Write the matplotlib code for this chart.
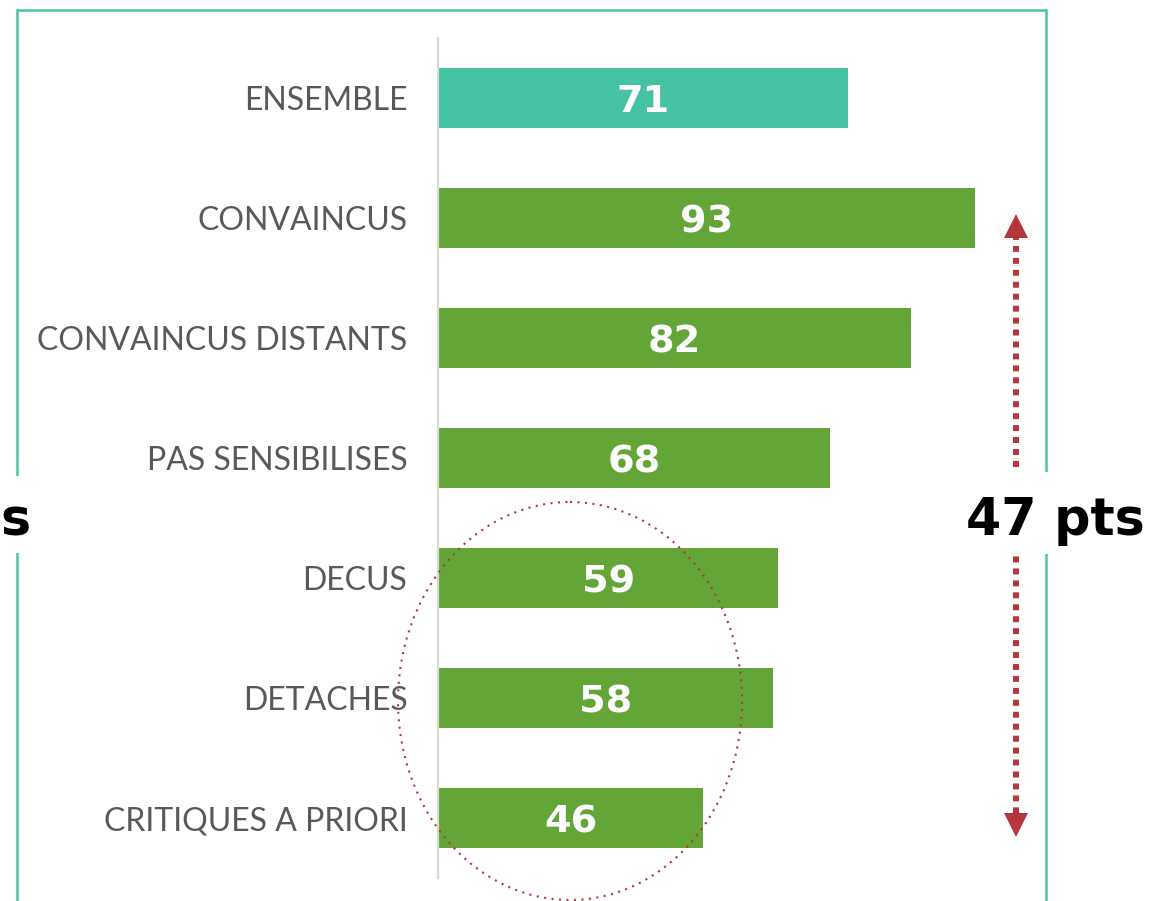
import matplotlib.pyplot as plt
from matplotlib.patches import Ellipse, Rectangle

# segments and scores
categories = ['ENSEMBLE', 'CONVAINCUS', 'CONVAINCUS DISTANTS', 'PAS SENSIBILISES',
              'DECUS', 'DETACHES', 'CRITIQUES A PRIORI']
values = [71, 93, 82, 68, 59, 58, 46]
bar_colors = ['#45C1A3'] + ['#63A537'] * 6

W, H = 1151, 901
fig = plt.figure(figsize=(W / 100, H / 100), dpi=100)
fig.patch.set_facecolor('white')

# bar axes: x=0 at 438px, 5.77 px per point
ax = fig.add_axes([438 / W, (H - 878) / H, 577 / W, 840 / H])
ypos = list(range(len(categories)))
ax.barh(ypos, values, height=0.5, color=bar_colors)
ax.set_xlim(0, 100)
ax.set_ylim(6.5, -0.5)
ax.set_yticks(ypos)
ax.set_yticklabels(categories, family=['Lato', 'DejaVu Sans'], fontweight='normal',
                   fontsize=23, color='#595959')
ax.tick_params(axis='y', length=0, pad=22)
ax.set_xticks([])
for s in ['top', 'right', 'bottom']:
    ax.spines[s].set_visible(False)
ax.spines['left'].set_color('#d9d9d9')
ax.spines['left'].set_linewidth(1.6)
ax.patch.set_alpha(0)

# value inside each bar
for y, v in zip(ypos, values):
    ax.text(v / 2, y + 0.117, str(v), ha='center', va='baseline', color='white',
            fontsize=27.5, fontweight='bold', family='DejaVu Sans')

# overlay in pixel units for the frame, gap arrow and circle
ov = fig.add_axes([0, 0, 1, 1])
ov.set_xlim(0, W)
ov.set_ylim(H, 0)
ov.axis('off')
ov.patch.set_alpha(0)

teal = '#4DC4A8'
red = '#B5373A'
ov.plot([17, 1046], [10, 10], color=teal, lw=1.8, solid_capstyle='butt')
ov.plot([17, 17], [10, H], color=teal, lw=1.8)
ov.plot([1046, 1046], [10, H], color=teal, lw=1.8)

# spread between highest and lowest segment
hi = max(values[1:])
lo = min(values[1:])
i_hi, i_lo = values.index(hi), values.index(lo)
ax_x = 100.2
ax.plot([ax_x, ax_x], [i_hi + 0.13, i_lo], color=red,
        lw=4.3, dashes=(1, 1), dash_capstyle='butt', clip_on=False)
ax.plot([ax_x], [i_hi + 0.07], marker='^', ms=17, color=red,
        clip_on=False, markeredgewidth=0)
ax.plot([ax_x], [i_lo + 0.06], marker='v', ms=17, color=red,
        clip_on=False, markeredgewidth=0)

# white boxes behind the spread labels
ov.add_patch(Rectangle((950, 472), W - 950, 82, facecolor='white', edgecolor='none', zorder=5))
ov.add_patch(Rectangle((0, 476), 35, 77, facecolor='white', edgecolor='none', zorder=5))
label = f'{hi - lo} pts'
ov.text(1145, 535, label, ha='right', va='baseline', fontsize=36.5, fontweight='bold',
        color='black', zorder=6)
# tail end of the same label on the left edge
ov.text(0, 535, label[-1], ha='left', va='baseline', fontsize=36.5, fontweight='bold',
        color='black', zorder=6)

# dotted circle around the lowest segments
ov.add_patch(Ellipse((570, 701), 344, 398, fill=False, edgecolor=red, lw=1.5,
                     linestyle=(0, (1, 2.6)), zorder=7))

fig.savefig('out.png', dpi=100, facecolor='white')
